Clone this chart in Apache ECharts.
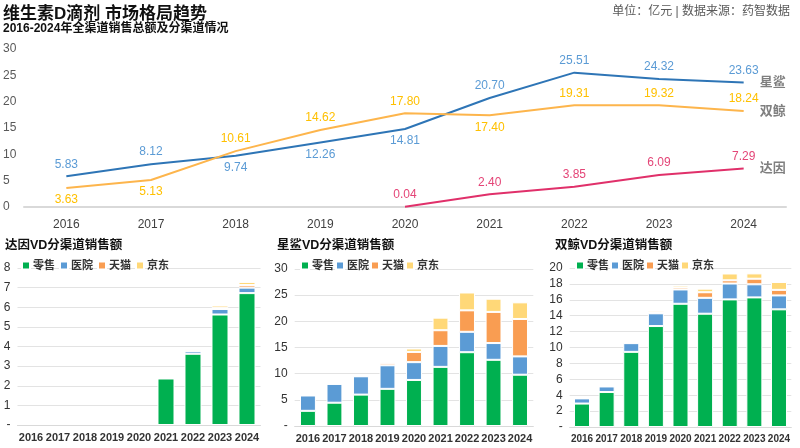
<!DOCTYPE html>
<html><head><meta charset="utf-8">
<script src="https://cdn.jsdelivr.net/npm/echarts@6/dist/echarts.min.js"></script>
<style>html,body{margin:0;padding:0;background:#fff}#c{width:800px;height:448px}</style>
</head><body><div id="c"></div>
<script>
const years = ['2016','2017','2018','2019','2020','2021','2022','2023','2024'];
const brands = ['星鲨','双鲸','达因'];
const xsTotal = [5.83,8.12,9.74,12.26,14.81,20.70,25.51,24.32,23.63];
const sjTotal = [3.63,5.13,10.61,14.62,17.80,17.40,19.31,19.32,18.24];
const dyTotal = [null,null,null,null,0.04,2.40,3.85,6.09,7.29];
const xsLabelPos = ['top','top','bottom','bottom','bottom','top','top','top','top'];
const sjLabelPos = ['bottom','bottom','top','top','top','bottom','top','top','top'];
const channels = ['零售','医院','天猫','京东'];
const dyRetail = [null,null,null,null,null,2.37,3.63,5.63,6.72];
const dyHospital = [null,null,null,null,null,0.02,0.13,0.28,0.28];
const dyTmall = [null,null,null,null,null,0,0.03,0.06,0.13];
const dyJd = [null,null,null,null,null,0.01,0.06,0.12,0.16];
const xsRetail = [2.90,4.45,6.00,7.10,8.80,11.30,14.10,12.65,9.80];
const xsHospital = [2.93,3.60,3.50,4.50,3.40,4.00,3.90,3.20,3.50];
const xsTmall = [0,0.02,0.08,0.40,1.95,3.00,4.10,5.95,7.15];
const xsJd = [0,0.05,0.16,0.26,0.66,2.40,3.41,2.52,3.18];
const sjRetail = [2.95,4.40,9.45,12.70,15.50,14.25,16.05,16.30,14.80];
const sjHospital = [0.65,0.70,1.10,1.60,1.80,2.00,2.00,1.65,1.75];
const sjTmall = [0,0,0,0.10,0.25,0.70,0.40,0.70,0.70];
const sjJd = [0.03,0.03,0.06,0.22,0.25,0.45,0.86,0.67,0.99];

const FONT = '"Liberation Sans", Arial, "Noto Sans CJK SC", sans-serif';
const chColors = ['#00b050','#5b9bd5','#f99d52','#ffd878'];

const chart = echarts.init(document.getElementById('c'));

function withPos(vals, pos){
  return vals.map((v,i)=>({value: v==null?'-':v, label:{position: pos ? pos[i] : 'top'}}));
}
function nz(vals){ return vals.map(v => (v==null || v===0) ? '-' : v); }

const grids = [
  {left:24, width:762, top:49, height:158},
  {left:17.5, width:243, top:268, height:157},
  {left:294.7, width:238.6, top:269, height:157},
  {left:569.7, width:221.6, top:268, height:159}
];
const xFont = [12, 11, 11, 10];
const xAxes = grids.map((g,i)=>({
  type:'category', gridIndex:i, data:years,
  axisLine:{lineStyle:{color:'#d9d9d9', width: i===0?2:1}},
  axisTick:{show:false},
  axisLabel: i===0 ? {color:'#404040', fontSize:12, margin:12, fontFamily:FONT}
                   : {color:'#333', fontSize:xFont[i], fontWeight:'bold', margin:7, interval:0, fontFamily:FONT}
}));
const yMax = [30,8,30,20], yInt = [5,1,5,2];
const yAxes = grids.map((g,i)=>({
  type:'value', gridIndex:i, min:0, max:yMax[i], interval:yInt[i],
  splitLine:{show: i!==0, lineStyle:{color:'#e3e3e3'}},
  axisLine:{show:false}, axisTick:{show:false},
  axisLabel: i===0 ? {color:'#595959', fontSize:12, align:'left', margin:21, fontFamily:FONT}
    : {color:'#333', fontSize:12, margin:7, fontFamily:FONT, formatter: v => v===0 ? '-' : v}
}));

const series = [];
const lineDefs = [
  {name:brands[0], data:withPos(xsTotal, xsLabelPos), line:'#2e75b6', lab:'#5b9bd5'},
  {name:brands[1], data:withPos(sjTotal, sjLabelPos), line:'#fdb54c', lab:'#ffc000'},
  {name:brands[2], data:withPos(dyTotal, null), line:'#e0306a', lab:'#e44577'}
];
lineDefs.forEach(d=>{
  series.push({
    type:'line', name:d.name, xAxisIndex:0, yAxisIndex:0, data:d.data,
    symbol:'circle', symbolSize:0.1, showSymbol:true,
    lineStyle:{color:d.line, width:2}, itemStyle:{color:d.line},
    label:{show:true, color:d.lab, fontSize:12, distance:6, fontFamily:FONT,
      formatter: p => Number(p.value).toFixed(2)},
    endLabel:{show:true, formatter: d.name, color:'#7f7f7f', fontSize:13, fontWeight:'bold', distance:16, fontFamily:FONT},
    labelLayout:{hideOverlap:false},
    z:3
  });
});
const barSets = [
  [dyRetail, dyHospital, dyTmall, dyJd],
  [xsRetail, xsHospital, xsTmall, xsJd],
  [sjRetail, sjHospital, sjTmall, sjJd]
];
const barW = ['63%','60%','65%'];
barSets.forEach((set,gi)=>{
  set.forEach((vals,ci)=>{
    series.push({
      type:'bar', name:channels[ci], xAxisIndex:gi+1, yAxisIndex:gi+1,
      stack:'s'+gi, data:nz(vals), barWidth:barW[gi],
      itemStyle:{color:chColors[ci], borderColor:'#fff', borderWidth:1}
    });
  });
});

const legendBase = {data:channels, itemWidth:8, itemHeight:8, icon:'rect', top:255,
  textStyle:{fontSize:11, fontWeight:'bold', color:'#333', fontFamily:FONT, padding:[0,0,0,-2]}};
const subT = {fontSize:12.5, fontWeight:'bold', color:'#111', fontFamily:FONT};
chart.setOption({
  animation:false,
  textStyle:{fontFamily:FONT},
  title:[
    {text:'维生素D滴剂 市场格局趋势', left:3, top:6, padding:0, textStyle:{fontSize:17, fontWeight:'bold', color:'#111', fontFamily:FONT}},
    {text:'2016-2024年全渠道销售总额及分渠道情况', left:3, top:23, padding:0, textStyle:{fontSize:12, fontWeight:'bold', color:'#111', fontFamily:FONT}},
    {text:'单位：亿元 | 数据来源：药智数据', right:10, top:6, padding:0, textStyle:{fontSize:12, fontWeight:'normal', color:'#595959', fontFamily:FONT}},
    {text:'达因VD分渠道销售额', left:5, top:239, padding:0, textStyle:subT},
    {text:'星鲨VD分渠道销售额', left:277, top:239, padding:0, textStyle:subT},
    {text:'双鲸VD分渠道销售额', left:555, top:239, padding:0, textStyle:subT}
  ],
  legend:[
    Object.assign({}, legendBase, {left:16, itemGap:4}),
    Object.assign({}, legendBase, {left:295, itemGap:1}),
    Object.assign({}, legendBase, {left:570, itemGap:1})
  ],
  grid:grids, xAxis:xAxes, yAxis:yAxes, series:series
});
</script></body></html>
